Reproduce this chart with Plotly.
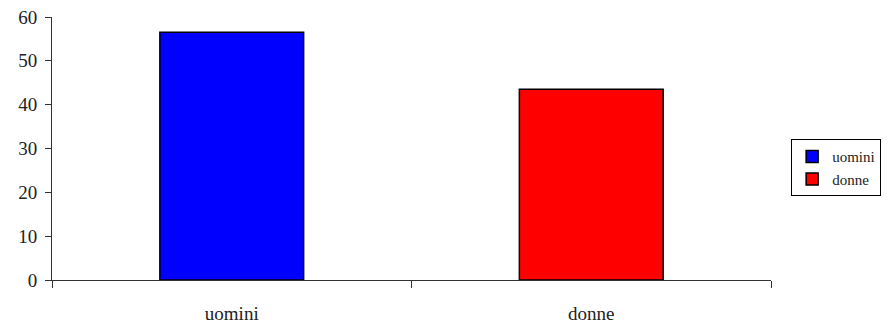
import plotly.graph_objects as go

categories = ["uomini", "donne"]
values = [56.5, 43.5]
colors = ["#0000FF", "#FF0000"]
y_ticks = [0, 10, 20, 30, 40, 50, 60]

FONT = "Liberation Serif, DejaVu Serif, serif"

# the page body has an 8px margin, so the figure is shifted and sized to fit
fig = go.Figure()
for cat, val, col in zip(categories, values, colors):
    fig.add_trace(go.Bar(
        x=[cat], y=[val], name=cat, width=0.4,
        marker=dict(color=col, line=dict(color="black", width=1.5)),
    ))

fig.update_layout(
    width=883, height=321,
    barmode="overlay",
    paper_bgcolor="white", plot_bgcolor="white",
    font=dict(family=FONT, color="#222", size=19),
    margin=dict(l=44, r=120, t=9, b=49),
    legend=dict(
        x=1.028, y=0.535, xanchor="left", yanchor="top",
        bordercolor="black", borderwidth=1, bgcolor="white",
        font=dict(size=15, family=FONT), tracegroupgap=0,
        itemwidth=30,
    ),
)
fig.update_xaxes(
    showline=True, linecolor="#333", linewidth=1, automargin=False,
    ticks="outside", tickson="boundaries", ticklen=7, tickcolor="#333",
    showgrid=False, ticklabelstandoff=16, ticklabeloverflow="allow",
)
fig.update_yaxes(
    range=[0, 60], tickvals=y_ticks, showline=True, linecolor="#333", linewidth=1,
    ticks="outside", ticklen=6, tickcolor="#333", showgrid=False, zeroline=False,
    ticklabelstandoff=4, automargin=False, ticklabeloverflow="allow",
)
fig.write_html("out.html")
